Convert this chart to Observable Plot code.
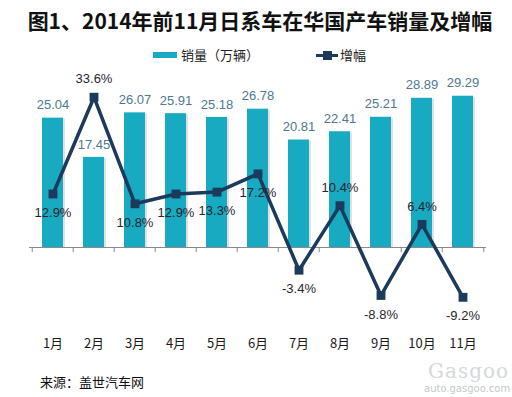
<!DOCTYPE html>
<html>
<head>
<meta charset="utf-8">
<script src="https://cdn.jsdelivr.net/npm/d3@7"></script>
<script src="https://cdn.jsdelivr.net/npm/@observablehq/plot@0.6"></script>
<style>
  body { margin: 0; background: #fff; width: 512px; height: 397px; overflow: hidden; position: relative;
         font-family: "Noto Sans CJK SC", "Noto Sans", sans-serif; }
  .abs { position: absolute; }
  #title { left: 0; width: 520px; top: 6px; text-align: center; font-size: 21px; font-weight: bold; color: #111; line-height: 28px; }
  .leg { font-size: 13px; color: #222; line-height: 16px; }
  #charts svg { position: absolute; left: 0; top: 0; background: transparent; }
</style>
</head>
<body>
<div id="title" class="abs">图1、2014年前11月日系车在华国产车销量及增幅</div>
<div class="abs" style="left:153px;top:52px;width:24px;height:6px;background:#17AAC0"></div>
<div class="abs leg" style="left:181px;top:47px">销量（万辆）</div>
<div class="abs" style="left:316px;top:54px;width:22px;height:3px;background:#1B3A5C"></div>
<div class="abs" style="left:323px;top:51px;width:9px;height:9px;background:#1B3A5C"></div>
<div class="abs leg" style="left:340px;top:47px">增幅</div>
<div id="charts" class="abs" style="left:0;top:68px;width:512px;height:290px"></div>
<div class="abs" style="left:40px;top:374px;font-size:13px;color:#111;line-height:16px">来源：盖世汽车网</div>
<div class="abs" style="left:428px;top:360px;font-size:20px;line-height:22px;color:#d5d9dd;font-family:'DejaVu Serif',serif;letter-spacing:1px">Gasgoo</div>
<div class="abs" style="left:424px;top:383px;font-size:10px;line-height:12px;color:#c4c8cc;font-family:'DejaVu Sans',sans-serif">auto.gasgoo.com</div>
<script>
const months = ["1月","2月","3月","4月","5月","6月","7月","8月","9月","10月","11月"];
const sales = [25.04, 17.45, 26.07, 25.91, 25.18, 26.78, 20.81, 22.41, 25.21, 28.89, 29.29];
const growth = [12.9, 33.6, 10.8, 12.9, 13.3, 17.2, -3.4, 10.4, -8.8, 6.4, -9.2];

const rows = months.map((m, i) => ({month: m, sales: sales[i], growth: growth[i]}));
const labelAbove = new Set(["2月", "8月", "10月"]);

const W = 512, H = 290;
const xLeft = 29, xRight = 486;
const step = (xRight - xLeft) / months.length;
const xScale = {type: "band", domain: months, range: [xLeft, xRight], paddingInner: 0.5, paddingOuter: 0.25, axis: null};
const numFont = "'Liberation Sans', 'Noto Sans', sans-serif";

const bars = Plot.plot({
  width: W, height: H,
  marginLeft: xLeft, marginRight: W - xRight, marginTop: 0, marginBottom: 11,
  x: xScale,
  y: {domain: [0, 30], range: [179, 179 - 30 * 5.165], axis: null},
  style: {background: "transparent", overflow: "visible"},
  marks: [
    Plot.barY(rows, {x: "month", y: "sales", fill: "#c9cdd1", dx: 2, dy: 1, opacity: 0.6}),
    Plot.barY(rows, {x: "month", y: "sales", fill: "#17AAC0"}),
    Plot.ruleY([0], {stroke: "#8a8a8a", strokeWidth: 1}),
    Plot.ruleX(months, {x: d => d, dx: -step / 2, y1: 0, y2: -1, stroke: "#8a8a8a"}),
    Plot.ruleX([months[months.length - 1]], {x: d => d, dx: step / 2, y1: 0, y2: -1, stroke: "#8a8a8a"}),
    Plot.text(rows, {x: "month", y: "sales", text: d => d.sales.toFixed(2), dy: -13,
      fill: "#4E7890", fontSize: 13, fontFamily: numFont}),
    Plot.text(months, {x: d => d, frameAnchor: "bottom", text: d => d, fontSize: 13,
      fill: "#1a1a1a", fontFamily: "'Noto Sans CJK SC', sans-serif"})
  ]
});

const line = Plot.plot({
  width: W, height: H,
  marginLeft: xLeft, marginRight: W - xRight, marginTop: 0, marginBottom: 11,
  x: xScale,
  y: {domain: [0, 30], range: [185.8, 185.8 - 30 * 4.675], axis: null},
  style: {background: "transparent", overflow: "visible"},
  marks: [
    Plot.line(rows, {x: "month", y: "growth", stroke: "#1B3A5C", strokeWidth: 3.5, strokeLinejoin: "miter"}),
    Plot.dot(rows, {x: "month", y: "growth", symbol: "square", r: 5, fill: "#1B3A5C", stroke: "none"}),
    Plot.text(rows.filter(d => labelAbove.has(d.month)), {x: "month", y: "growth",
      text: d => d.growth.toFixed(1) + "%", dy: -18,
      fill: "#2a1f2e", fontSize: 13, fontFamily: numFont}),
    Plot.text(rows.filter(d => !labelAbove.has(d.month)), {x: "month", y: "growth",
      text: d => d.growth.toFixed(1) + "%", dy: 19,
      fill: "#2a1f2e", fontSize: 13, fontFamily: numFont})
  ]
});

document.getElementById("charts").append(bars, line);
</script>
</body>
</html>
